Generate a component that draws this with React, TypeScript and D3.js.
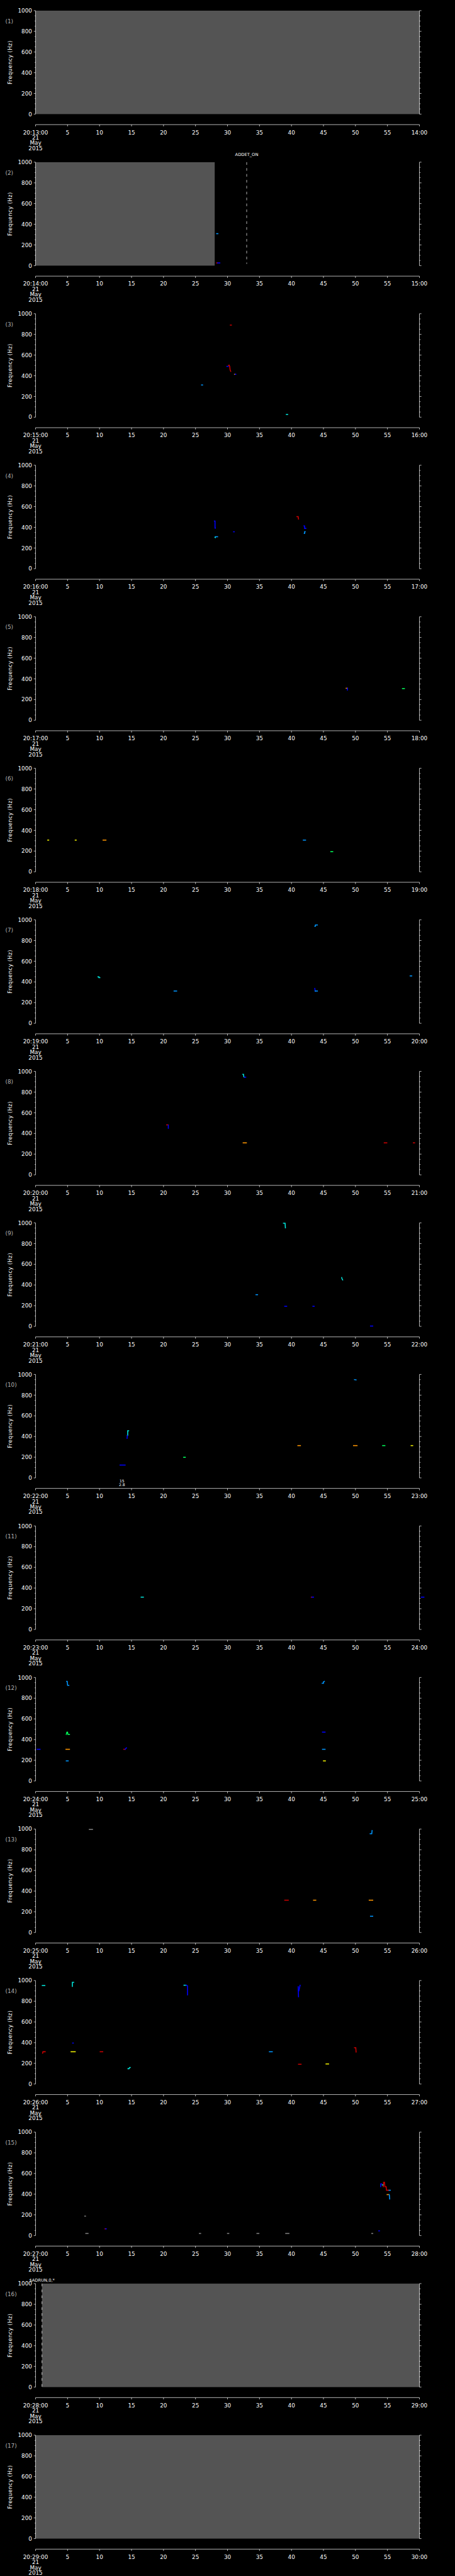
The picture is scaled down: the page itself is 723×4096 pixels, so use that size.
import React from "react";
import * as d3 from "d3";

// ---------- DATA ----------
const panelStartLabels = [
  "20:13:00", "20:14:00", "20:15:00", "20:16:00", "20:17:00", "20:18:00",
  "20:19:00", "20:20:00", "20:21:00", "20:22:00", "20:23:00", "20:24:00",
  "20:25:00", "20:26:00", "20:27:00", "20:28:00", "20:29:00",
];
const panelEndLabels = [
  "14:00", "15:00", "16:00", "17:00", "18:00", "19:00", "20:00", "21:00",
  "22:00", "23:00", "24:00", "25:00", "26:00", "27:00", "28:00", "29:00", "30:00",
];
const tickSeconds = [0, 5, 10, 15, 20, 25, 30, 35, 40, 45, 50, 55, 60];
const midTickLabels = ["5", "10", "15", "20", "25", "30", "35", "40", "45", "50", "55"];
const dateLines = ["21", "May", "2015"];
const freqMajorTicks = [0, 200, 400, 600, 800, 1000];
const freqMinorTicks = [50, 100, 150, 250, 300, 350, 450, 500, 550, 650, 700, 750, 850, 900, 950];

// intensity level -> colour (0 dim, 1 blue ... 7 red)
const levelColors = ["#808080", "#0000ff", "#0096ff", "#00e6dc", "#00ff5a", "#f0f000", "#ff9600", "#cc0000"];

// no-data (gray) spans: [panel index, t0 (s), t1 (s)]
const noDataSpans: [number, number, number][] = [
  [0, 0, 60],
  [1, 0, 28],
  [15, 1, 60],
  [16, 0, 60],
];

// event markers: [panel index, t (s), label]
const eventMarkers: [number, number, string][] = [
  [1, 33, "ADDET_ON"],
  [15, 1, "$ADRUN,0,*"],
];

// small annotation: [panel index, t (s), line1, line2]
const annotations: [number, number, string, string][] = [[9, 13.5, "15", "2.8"]];

type Trace = [number, [number, number][]]; // [level, [[t, f], ...]]

const panel1Traces: Trace[] = [];
const panel2Traces: Trace[] = [
  [2, [[28.3, 309], [28.5, 309]]],
  [7, [[28.3, 26], [28.45, 26]]],
  [1, [[28.45, 26], [28.8, 26]]],
];
const panel3Traces: Trace[] = [
  [7, [[30.45, 890], [30.6, 890]]],
  [1, [[29.9, 491], [30.1, 491]]],
  [7, [[30.15, 500], [30.25, 503], [30.35, 490], [30.4, 460], [30.5, 443]]],
  [6, [[31.1, 414], [31.2, 414]]],
  [1, [[31.2, 414], [31.3, 414]]],
  [2, [[25.95, 311], [26.1, 311]]],
  [3, [[39.2, 26], [39.4, 26]]],
];
const panel4Traces: Trace[] = [
  [1, [[27.95, 461], [28.05, 461], [28.05, 393], [28.1, 393]]],
  [2, [[28.1, 309], [28.45, 309]]],
  [3, [[28.05, 303], [28.1, 300]]],
  [1, [[30.95, 357], [31.05, 357]]],
  [7, [[40.85, 503], [41.05, 503], [41.1, 480]]],
  [1, [[41.95, 413], [42.05, 413], [42.05, 390], [42.25, 390]]],
  [2, [[42.0, 340], [42.05, 340], [42.05, 357], [42.15, 357]]],
];
const panel5Traces: Trace[] = [
  [6, [[48.55, 309], [48.7, 309]]],
  [1, [[48.75, 309], [48.75, 292]]],
  [4, [[57.35, 306], [57.65, 306]]],
];
const panel6Traces: Trace[] = [
  [5, [[1.9, 306], [2.05, 306]]],
  [5, [[6.2, 306], [6.35, 306]]],
  [6, [[10.55, 306], [11.0, 306]]],
  [2, [[41.85, 306], [42.2, 306]]],
  [4, [[46.15, 194], [46.45, 194]]],
];
const panel7Traces: Trace[] = [
  [2, [[43.65, 938], [43.75, 938], [43.75, 950], [44.05, 950]]],
  [3, [[9.75, 449], [9.9, 449], [9.9, 441], [10.05, 441]]],
  [2, [[21.65, 312], [22.05, 312]]],
  [1, [[43.65, 337], [43.7, 312]]],
  [2, [[43.7, 312], [44.05, 312]]],
  [2, [[58.55, 458], [58.8, 458]]],
];
const panel8Traces: Trace[] = [
  [3, [[32.4, 972], [32.5, 972], [32.55, 947], [32.65, 944]]],
  [1, [[32.65, 944], [32.85, 944]]],
  [7, [[20.5, 483], [20.7, 483]]],
  [1, [[20.75, 480], [20.75, 450]]],
  [6, [[32.45, 309], [32.95, 309]]],
  [7, [[54.5, 309], [54.9, 309]]],
  [7, [[59.05, 309], [59.25, 309]]],
];
const panel9Traces: Trace[] = [
  [3, [[38.75, 997], [39.0, 997], [39.05, 952]]],
  [3, [[47.85, 472], [47.9, 460], [48.0, 449]]],
  [2, [[34.45, 306], [34.7, 306]]],
  [1, [[38.95, 194], [39.25, 194]]],
  [1, [[43.35, 194], [43.55, 194]]],
  [1, [[52.35, 3], [52.7, 3]]],
];
const panel10Traces: Trace[] = [
  [2, [[49.85, 950], [50.1, 947]]],
  [3, [[14.35, 410], [14.4, 410], [14.4, 455], [14.55, 455]]],
  [1, [[14.3, 382], [14.35, 410]]],
  [1, [[13.2, 124], [14.0, 124]]],
  [4, [[23.15, 199], [23.4, 199]]],
  [6, [[41.0, 312], [41.4, 312]]],
  [6, [[49.7, 312], [50.25, 312]]],
  [4, [[54.25, 312], [54.6, 312]]],
  [5, [[58.7, 312], [58.95, 312]]],
];
const panel11Traces: Trace[] = [
  [3, [[16.5, 312], [16.85, 312]]],
  [7, [[43.1, 312], [43.2, 312]]],
  [1, [[43.2, 312], [43.45, 312]]],
  [1, [[60.3, 312], [60.7, 312]]],
];
const panel12Traces: Trace[] = [
  [1, [[0.25, 306], [0.7, 306]]],
  [2, [[4.85, 963], [4.95, 963], [5.0, 924], [5.2, 924]]],
  [4, [[4.8, 450], [4.9, 472], [5.0, 472], [5.05, 450], [5.3, 450]]],
  [6, [[4.75, 306], [5.3, 306]]],
  [2, [[4.8, 194], [5.1, 194]]],
  [7, [[13.8, 306], [14.0, 306]]],
  [1, [[14.0, 306], [14.2, 320]]],
  [2, [[44.8, 944], [45.0, 944], [45.0, 958], [45.15, 963]]],
  [1, [[44.85, 472], [45.25, 472]]],
  [2, [[44.85, 306], [45.25, 306]]],
  [5, [[45.0, 194], [45.3, 194]]],
];
const panel13Traces: Trace[] = [
  [0, [[8.4, 997], [8.9, 997]]],
  [2, [[52.3, 955], [52.55, 955], [52.6, 986]]],
  [7, [[38.95, 312], [39.5, 312]]],
  [6, [[43.45, 312], [43.8, 312]]],
  [6, [[52.15, 312], [52.7, 312]]],
  [2, [[52.35, 157], [52.7, 157]]],
];
const panel14Traces: Trace[] = [
  [3, [[1.05, 952], [1.45, 952]]],
  [3, [[5.75, 944], [5.75, 983], [5.95, 983]]],
  [3, [[23.2, 955], [23.55, 955]]],
  [1, [[23.55, 955], [23.75, 950], [23.75, 862]]],
  [1, [[41.05, 940], [41.1, 843]]],
  [1, [[41.15, 900], [41.35, 955]]],
  [7, [[1.1, 298], [1.15, 312], [1.5, 312]]],
  [1, [[5.8, 396], [5.9, 396]]],
  [5, [[5.55, 312], [6.2, 312]]],
  [7, [[10.1, 312], [10.5, 312]]],
  [3, [[14.45, 148], [14.6, 148], [14.7, 160], [14.8, 160]]],
  [2, [[36.55, 312], [37.0, 312]]],
  [7, [[41.1, 191], [41.5, 191]]],
  [5, [[45.4, 194], [45.8, 194]]],
  [7, [[49.85, 351], [50.05, 351], [50.1, 309]]],
];
const panel15Traces: Trace[] = [
  [7, [[54.35, 472], [54.4, 514], [54.55, 514], [54.6, 472], [54.8, 472], [54.85, 438], [55.2, 438]]],
  [1, [[53.95, 472], [53.95, 500], [54.1, 500]]],
  [3, [[54.2, 489], [54.3, 489]]],
  [6, [[54.95, 396], [55.2, 396]]],
  [2, [[55.25, 396], [55.3, 393], [55.35, 354]]],
  [2, [[55.25, 438], [55.45, 438]]],
  [0, [[7.7, 188], [7.8, 188]]],
  [0, [[7.85, 20], [8.2, 20]]],
  [7, [[10.85, 65], [10.95, 65]]],
  [1, [[10.95, 65], [11.05, 65]]],
  [0, [[25.6, 20], [25.8, 20]]],
  [0, [[30.0, 20], [30.2, 20]]],
  [0, [[34.6, 20], [34.9, 20]]],
  [0, [[39.1, 20], [39.6, 20]]],
  [0, [[52.55, 20], [52.7, 20]]],
  [1, [[53.65, 45], [53.75, 45]]],
];
const panel16Traces: Trace[] = [];
const panel17Traces: Trace[] = [];

const panelTraces = [
  panel1Traces, panel2Traces, panel3Traces, panel4Traces, panel5Traces, panel6Traces,
  panel7Traces, panel8Traces, panel9Traces, panel10Traces, panel11Traces, panel12Traces,
  panel13Traces, panel14Traces, panel15Traces, panel16Traces, panel17Traces,
];

// ---------- LAYOUT (reference units, scaled by viewBox) ----------
const REF_W = 1024;
const REF_H = 5802;
const FIRST_TOP = 24;
const PANEL_STEP = 341.3;
const PLOT_H = 233;
const X0 = 80;
const X1 = 944;
const AXIS_DY = 256.7;
const FONT = "'DejaVu Sans', Verdana, sans-serif";
const eventLabelDy = [-14, -4.5];

function Panel({ index }: { index: number }) {
  const top = FIRST_TOP + index * PANEL_STEP;
  const bottom = top + PLOT_H;
  const x = d3.scaleLinear().domain([0, 60]).range([X0, X1]);
  const y = d3.scaleLinear().domain([0, 1000]).range([bottom, top]);
  const line = d3
    .line<[number, number]>()
    .x((d) => x(d[0]))
    .y((d) => y(d[1]));
  const axisY = top + AXIS_DY;
  const traces = panelTraces[index];

  return (
    <g>
      {noDataSpans
        .filter((s) => s[0] === index)
        .map((s, i) => (
          <rect key={"nd" + i} x={x(s[1])} y={top} width={x(s[2]) - x(s[1])} height={PLOT_H} fill="#545454" />
        ))}

      {traces.map((tr, i) => (
        <path
          key={"tr" + i}
          d={line(tr[1]) || ""}
          fill="none"
          stroke={levelColors[tr[0]]}
          strokeWidth={2.2}
          strokeLinecap="square"
          strokeLinejoin="miter"
        />
      ))}

      {eventMarkers
        .map((e, k) => [e, k] as const)
        .filter(([e]) => e[0] === index)
        .map(([e, k]) => (
          <g key={"ev" + k}>
            <line
              x1={x(e[1])}
              x2={x(e[1])}
              y1={top}
              y2={k === 0 ? bottom - 4 : bottom}
              stroke="#fff"
              strokeWidth={1}
              strokeDasharray="6 7.3"
            />
            <text
              x={x(e[1])}
              y={top + eventLabelDy[k]}
              fill="#fff"
              fontSize={9.5}
              textAnchor="middle"
              fontFamily={FONT}
            >
              {e[2]}
            </text>
          </g>
        ))}

      {annotations
        .filter((a) => a[0] === index)
        .map((a, i) => (
          <g key={"an" + i} fill="#fff" fontSize={8.5} fontFamily={FONT} textAnchor="middle">
            <text x={x(a[1])} y={top + 243}>{a[2]}</text>
            <text x={x(a[1])} y={top + 252}>{a[3]}</text>
          </g>
        ))}

      {/* left axis */}
      <line x1={X0} x2={X0} y1={top} y2={bottom} stroke="#fff" strokeWidth={1} />
      {freqMajorTicks.map((f) => (
        <g key={"lmaj" + f}>
          <line x1={X0 - 4} x2={X0} y1={y(f)} y2={y(f)} stroke="#fff" strokeWidth={1} />
          <line x1={X1} x2={X1 + 4.5} y1={y(f)} y2={y(f)} stroke="#fff" strokeWidth={1} />
          <text
            x={X0 - 8}
            y={y(f)}
            dy="0.36em"
            fill="#fff"
            fontSize={12.5}
            textAnchor="end"
            fontFamily={FONT}
          >
            {f}
          </text>
        </g>
      ))}
      {freqMinorTicks.map((f) => (
        <g key={"lmin" + f}>
          <line x1={X0 - 2} x2={X0} y1={y(f)} y2={y(f)} stroke="#fff" strokeWidth={1} />
          <line x1={X1} x2={X1 + 2.5} y1={y(f)} y2={y(f)} stroke="#fff" strokeWidth={1} />
        </g>
      ))}
      {/* right axis */}
      <line x1={X1} x2={X1} y1={top} y2={bottom} stroke="#fff" strokeWidth={1} />

      {/* panel label and y title */}
      <text x={12} y={top + 28} fill="#b4b4b4" fontSize={12.5} fontFamily={FONT}>
        {"(" + (index + 1) + ")"}
      </text>
      <text
        transform={`translate(23,${top + PLOT_H / 2}) rotate(-90)`}
        fill="#fff"
        fontSize={12}
        letterSpacing={0.6}
        textAnchor="middle"
        dominantBaseline="central"
        fontFamily={FONT}
      >
        Frequency (Hz)
      </text>

      {/* time axis */}
      <line x1={X0} x2={X1} y1={axisY} y2={axisY} stroke="#fff" strokeWidth={1} />
      {tickSeconds.map((s, i) => {
        const label = i === 0 ? panelStartLabels[index] : i === tickSeconds.length - 1 ? panelEndLabels[index] : midTickLabels[i - 1];
        return (
          <g key={"tt" + s}>
            <line x1={x(s)} x2={x(s)} y1={axisY} y2={axisY + 4} stroke="#fff" strokeWidth={1} />
            <text x={x(s)} y={top + 278.5} fill="#fff" fontSize={12.5} textAnchor="middle" fontFamily={FONT}>
              {label}
            </text>
          </g>
        );
      })}
      {dateLines.map((d, i) => (
        <text
          key={"dl" + i}
          x={X0}
          y={top + 290.5 + i * 12}
          fill="#fff"
          fontSize={12.5}
          textAnchor="middle"
          fontFamily={FONT}
        >
          {d}
        </text>
      ))}
    </g>
  );
}

export default function App() {
  return (
    <svg
      width={723}
      height={4096}
      viewBox={`0 0 ${REF_W} ${REF_H}`}
      style={{ position: "absolute", left: 0, top: 0, display: "block", background: "#000" }}
    >
      <rect x={0} y={0} width={REF_W} height={REF_H} fill="#000" />
      {panelTraces.map((_, i) => (
        <Panel key={i} index={i} />
      ))}
    </svg>
  );
}
